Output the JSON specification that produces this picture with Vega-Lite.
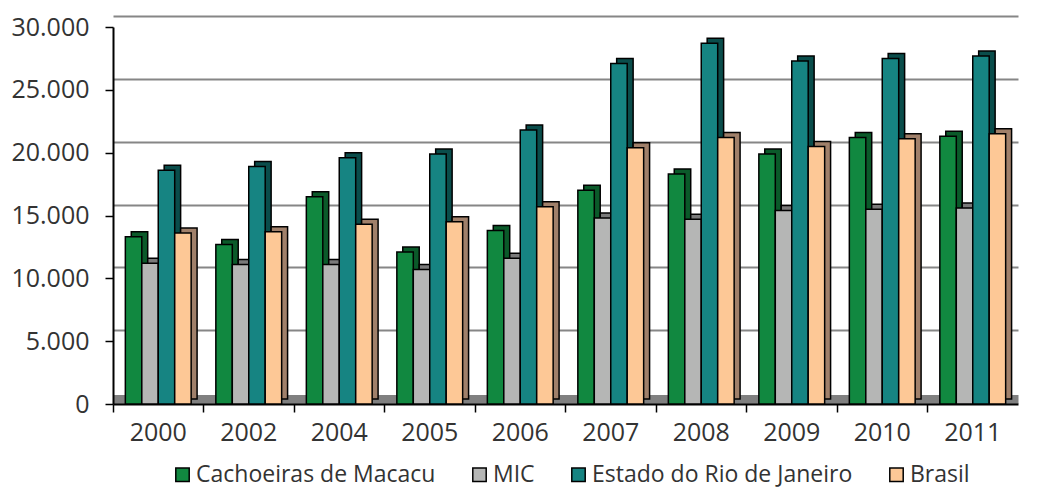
{
  "$schema": "https://vega.github.io/schema/vega-lite/v6.json",
  "width": 905,
  "height": 377,
  "autosize": "none",
  "padding": {"left": 113, "top": 27, "right": 21, "bottom": 87},
  "config": {
    "locale": {"number": {"decimal": ",", "thousands": ".", "grouping": [3], "currency": ["R$", ""]}},
    "font": "Open Sans",
    "view": {"stroke": null},
    "axisX": {"title": null, "labelAngle": 0, "bandPosition": 0, "ticks": true, "tickSize": 8, "tickColor": "#000000", "tickWidth": 1.5, "domainColor": "#000000", "domainWidth": 2, "labelPadding": 8, "grid": false, "labelFont": "Open Sans", "labelFontSize": 25, "labelColor": "#333333"}
  },
  "data": {
    "values": [
      {"ano": "2000", "serie": "Cachoeiras de Macacu", "valor": 13300},
      {"ano": "2000", "serie": "MIC", "valor": 11200},
      {"ano": "2000", "serie": "Estado do Rio de Janeiro", "valor": 18600},
      {"ano": "2000", "serie": "Brasil", "valor": 13600},
      {"ano": "2002", "serie": "Cachoeiras de Macacu", "valor": 12700},
      {"ano": "2002", "serie": "MIC", "valor": 11100},
      {"ano": "2002", "serie": "Estado do Rio de Janeiro", "valor": 18900},
      {"ano": "2002", "serie": "Brasil", "valor": 13700},
      {"ano": "2004", "serie": "Cachoeiras de Macacu", "valor": 16500},
      {"ano": "2004", "serie": "MIC", "valor": 11100},
      {"ano": "2004", "serie": "Estado do Rio de Janeiro", "valor": 19600},
      {"ano": "2004", "serie": "Brasil", "valor": 14300},
      {"ano": "2005", "serie": "Cachoeiras de Macacu", "valor": 12100},
      {"ano": "2005", "serie": "MIC", "valor": 10700},
      {"ano": "2005", "serie": "Estado do Rio de Janeiro", "valor": 19900},
      {"ano": "2005", "serie": "Brasil", "valor": 14500},
      {"ano": "2006", "serie": "Cachoeiras de Macacu", "valor": 13800},
      {"ano": "2006", "serie": "MIC", "valor": 11600},
      {"ano": "2006", "serie": "Estado do Rio de Janeiro", "valor": 21800},
      {"ano": "2006", "serie": "Brasil", "valor": 15700},
      {"ano": "2007", "serie": "Cachoeiras de Macacu", "valor": 17000},
      {"ano": "2007", "serie": "MIC", "valor": 14800},
      {"ano": "2007", "serie": "Estado do Rio de Janeiro", "valor": 27100},
      {"ano": "2007", "serie": "Brasil", "valor": 20400},
      {"ano": "2008", "serie": "Cachoeiras de Macacu", "valor": 18300},
      {"ano": "2008", "serie": "MIC", "valor": 14700},
      {"ano": "2008", "serie": "Estado do Rio de Janeiro", "valor": 28700},
      {"ano": "2008", "serie": "Brasil", "valor": 21200},
      {"ano": "2009", "serie": "Cachoeiras de Macacu", "valor": 19900},
      {"ano": "2009", "serie": "MIC", "valor": 15400},
      {"ano": "2009", "serie": "Estado do Rio de Janeiro", "valor": 27300},
      {"ano": "2009", "serie": "Brasil", "valor": 20500},
      {"ano": "2010", "serie": "Cachoeiras de Macacu", "valor": 21200},
      {"ano": "2010", "serie": "MIC", "valor": 15500},
      {"ano": "2010", "serie": "Estado do Rio de Janeiro", "valor": 27500},
      {"ano": "2010", "serie": "Brasil", "valor": 21100},
      {"ano": "2011", "serie": "Cachoeiras de Macacu", "valor": 21300},
      {"ano": "2011", "serie": "MIC", "valor": 15600},
      {"ano": "2011", "serie": "Estado do Rio de Janeiro", "valor": 27700},
      {"ano": "2011", "serie": "Brasil", "valor": 21500}
    ]
  },
  "resolve": {"scale": {"y": "independent", "xOffset": "independent", "color": "independent", "fill": "independent"}, "axis": {"y": "independent"}},
  "layer": [
    {
      "mark": {"type": "bar", "opacity": 0},
      "encoding": {
        "x": {"field": "ano", "type": "ordinal", "scale": {"paddingInner": 0, "paddingOuter": 0}},
        "y": {
          "field": "valor", "type": "quantitative",
          "scale": {"domain": [-875, 30000], "range": [377, -11], "nice": false, "zero": false},
          "axis": {
            "orient": "right", "title": null, "labels": false, "ticks": false, "domain": false, "grid": true,
            "values": [-477, 5000, 10000, 15000, 20000, 25000, 30000],
            "gridColor": {"condition": {"test": "datum.value < 0", "value": "#808080"}, "value": "#868686"},
            "gridWidth": {"condition": {"test": "datum.value < 0", "value": 9}, "value": 2}
          }
        }
      }
    },
    {
      "mark": {"type": "bar", "yOffset": -5, "stroke": "#000000", "strokeWidth": 1.5},
      "encoding": {
        "x": {"field": "ano", "type": "ordinal", "scale": {"paddingInner": 0, "paddingOuter": 0}},
        "xOffset": {
          "field": "serie", "type": "nominal",
          "sort": ["Cachoeiras de Macacu", "MIC", "Estado do Rio de Janeiro", "Brasil"],
          "scale": {"paddingInner": 0, "paddingOuter": 0.75, "align": 0.74}
        },
        "y": {"field": "valor", "type": "quantitative", "scale": {"domain": [0, 30000], "nice": false}, "axis": null},
        "color": {
          "field": "serie", "type": "nominal",
          "scale": {"domain": ["Cachoeiras de Macacu", "MIC", "Estado do Rio de Janeiro", "Brasil"], "range": ["#0b5a2a", "#7a7a7a", "#0a4d4b", "#a0806a"]},
          "legend": null
        }
      }
    },
    {
      "mark": {"type": "bar", "stroke": "#000000", "strokeWidth": 1.5},
      "encoding": {
        "x": {"field": "ano", "type": "ordinal", "scale": {"paddingInner": 0, "paddingOuter": 0}},
        "xOffset": {
          "field": "serie", "type": "nominal",
          "sort": ["Cachoeiras de Macacu", "MIC", "Estado do Rio de Janeiro", "Brasil"],
          "scale": {"paddingInner": 0, "paddingOuter": 0.75, "align": 0.5}
        },
        "y": {
          "field": "valor", "type": "quantitative",
          "scale": {"domain": [0, 30000], "nice": false},
          "axis": {"title": null, "format": ",.0f", "values": [0, 5000, 10000, 15000, 20000, 25000, 30000], "grid": false, "domainColor": "#000000", "domainWidth": 2, "tickColor": "#000000", "tickWidth": 1.5, "tickSize": 8, "labelPadding": 16, "labelFont": "Open Sans", "labelFontSize": 25, "labelColor": "#333333", "labelOverlap": false}
        },
        "fill": {
          "field": "serie", "type": "nominal",
          "sort": ["Cachoeiras de Macacu", "MIC", "Estado do Rio de Janeiro", "Brasil"],
          "scale": {"domain": ["Cachoeiras de Macacu", "MIC", "Estado do Rio de Janeiro", "Brasil"], "range": ["#118840", "#b5b6b5", "#168482", "#fdc896"]},
          "legend": {
            "title": null, "orient": "none", "legendX": 58, "legendY": 436, "direction": "horizontal", "padding": 0,
            "symbolType": "square", "symbolSize": 180, "symbolStrokeColor": "#000000", "symbolStrokeWidth": 1.5,
            "labelFont": "Open Sans", "labelFontSize": 23, "labelColor": "#333333", "labelLimit": 500,
            "labelOffset": 2, "columnPadding": 32
          }
        }
      }
    }
  ]
}
